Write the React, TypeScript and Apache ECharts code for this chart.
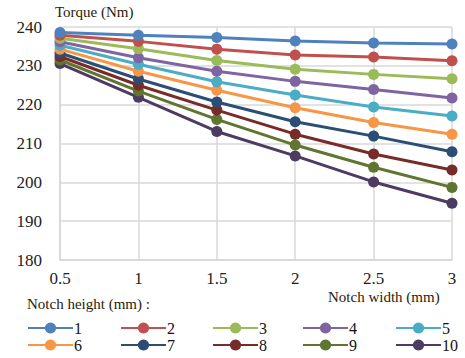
import React, { useEffect, useRef } from "react";
import * as echarts from "echarts";

const notchWidths = [0.5, 1, 1.5, 2, 2.5, 3];
const seriesNames = ["1", "2", "3", "4", "5", "6", "7", "8", "9", "10"];
const colors = ["#4F81BD", "#C0504D", "#9BBB59", "#8064A2", "#4BACC6", "#F79646", "#2C4D75", "#772C2A", "#5F7530", "#4D3B62"];
const h1 = [238.6, 237.9, 237.3, 236.4, 235.9, 235.6];
const h2 = [237.9, 236.3, 234.3, 232.8, 232.3, 231.3];
const h3 = [237.1, 234.4, 231.4, 229.1, 227.8, 226.7];
const h4 = [236.2, 232.1, 228.6, 226.0, 223.9, 221.7];
const h5 = [235.3, 230.4, 225.9, 222.5, 219.4, 217.1];
const h6 = [234.3, 228.6, 223.7, 219.2, 215.4, 212.4];
const h7 = [233.3, 226.6, 220.7, 215.6, 211.9, 207.9];
const h8 = [232.4, 225.0, 218.6, 212.4, 207.3, 203.2];
const h9 = [231.5, 223.5, 216.2, 209.6, 203.9, 198.7];
const h10 = [230.6, 221.9, 213.1, 206.8, 200.1, 194.6];
const values = [h1, h2, h3, h4, h5, h6, h7, h8, h9, h10];
const yTicks = { min: 180, max: 240, interval: 10 };

const FONT = "Times New Roman";

export default function App() {
  const ref = useRef<HTMLDivElement>(null);
  useEffect(() => {
    if (!ref.current) return;
    const el = ref.current;
    const chart = echarts.init(el, undefined, { renderer: "svg" });
    const colX = [27, 120, 212, 302, 395];
    const rowY = [320, 337];
    const legends = seriesNames.map((n, i) => ({
      data: [n],
      left: colX[i % 5],
      top: rowY[Math.floor(i / 5)],
      itemWidth: 45,
      itemHeight: 14,
      itemGap: 0,
      padding: 0,
      textStyle: { fontFamily: FONT, fontSize: 16, color: "#111", padding: [0, 0, 0, -4], lineHeight: 14 },
    }));
    const patchFonts = () => {
      el.querySelectorAll("text").forEach((t) => {
        (t as SVGTextElement).style.fontFamily = "'Times New Roman', 'Liberation Serif', serif";
      });
    };
    chart.on("finished", patchFonts);
    chart.on("rendered", patchFonts);
    chart.setOption({
      animation: false,
      color: colors,
      textStyle: { fontFamily: FONT },
      grid: { left: 60, right: 13, top: 27, bottom: 98 },
      xAxis: {
        type: "value",
        min: 0.5,
        max: 3,
        interval: 0.5,
        axisLine: { show: true, onZero: false, lineStyle: { color: "#D9D9D9", width: 2 } },
        axisTick: { show: false },
        splitLine: { show: true, lineStyle: { color: "#D9D9D9", width: 1.5 } },
        axisLabel: { fontFamily: FONT, fontSize: 17, color: "#222", margin: 10 },
      },
      yAxis: {
        type: "value",
        min: yTicks.min,
        max: yTicks.max,
        interval: yTicks.interval,
        axisLine: { show: true, lineStyle: { color: "#D9D9D9", width: 2 } },
        axisTick: { show: false },
        splitLine: { show: true, lineStyle: { color: "#D9D9D9", width: 1.5 } },
        axisLabel: { fontFamily: FONT, fontSize: 17, color: "#222", margin: 18 },
      },
      legend: legends,
      series: seriesNames.map((n, i) => ({
        name: n,
        type: "line",
        data: notchWidths.map((x, j) => [x, values[i][j]]),
        symbol: "circle",
        symbolSize: 11,
        lineStyle: { width: 3, color: colors[i] },
        itemStyle: { color: colors[i] },
        z: 20 - i,
      })),
      graphic: [
        { type: "text", left: 55, top: 4, style: { text: "Torque (Nm)", fontFamily: FONT, fontSize: 15, fill: "#2a1a0a" } },
        { type: "text", left: 328, top: 289, style: { text: "Notch width (mm)", fontFamily: FONT, fontSize: 15, fill: "#2a1a0a" } },
        { type: "text", left: 27, top: 296, style: { text: "Notch height (mm) :", fontFamily: FONT, fontSize: 15, fill: "#2a1a0a" } },
      ],
    });
    patchFonts();
    const timer = setTimeout(patchFonts, 50);
    return () => {
      clearTimeout(timer);
      chart.dispose();
    };
  }, []);
  return <div ref={ref} style={{ width: 465, height: 358, position: "absolute", left: 0, top: 0 }} />;
}
